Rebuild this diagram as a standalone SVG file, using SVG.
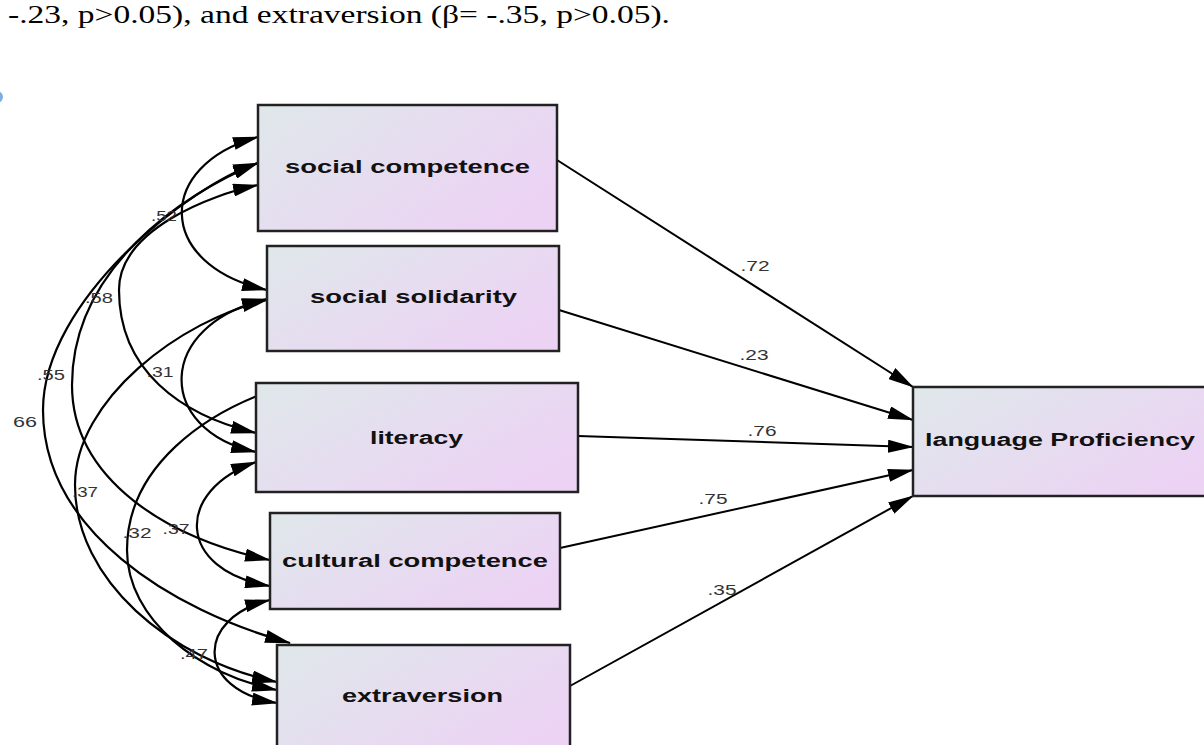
<svg xmlns="http://www.w3.org/2000/svg" width="1204" height="745" viewBox="0 0 1204 745">
<style>
.box{stroke:#222;stroke-width:2.5;fill:url(#g)}
.bt{font-family:"Liberation Sans",Arial,sans-serif;font-weight:bold;font-size:18px;fill:#111;text-anchor:middle}
.lb{font-family:"Liberation Sans",Arial,sans-serif;font-size:15px;fill:#333;text-anchor:middle}
.cv{fill:none;stroke:#000;stroke-width:2.2;marker-start:url(#ah);marker-end:url(#ah)}
.pa{fill:none;stroke:#000;stroke-width:2;marker-end:url(#ah)}
</style>
<defs>
<linearGradient id="g" x1="0" y1="0" x2="1" y2="0.6">
<stop offset="0" stop-color="#dfe8ea"/>
<stop offset="1" stop-color="#ecd3f4"/>
</linearGradient>
<marker id="ah" viewBox="0 0 26 13" refX="25" refY="6.5" markerWidth="26" markerHeight="13" markerUnits="userSpaceOnUse" orient="auto-start-reverse">
<path d="M0,0 L26,6.5 L0,13 z" fill="#000"/>
</marker>
</defs>
<rect width="1204" height="745" fill="#fff"/>
<text x="8" y="23" font-family="'Liberation Serif','Times New Roman',serif" font-size="26" fill="#000" textLength="662" lengthAdjust="spacingAndGlyphs">-.23, p&gt;0.05), and extraversion (β= -.35, p&gt;0.05).</text>
<circle cx="-3" cy="97" r="6" fill="#5b9bd5" opacity="0.8"/>

<g id="connectors">
<path class="cv" d="M258,137 C155,165 155,265 267,290"/>
<path class="cv" d="M267,299 C155,325 155,430 256,452"/>
<path class="cv" d="M256,462 C175,490 175,570 270,586"/>
<path class="cv" d="M270,600 C195,618 195,690 277,703"/>
<path class="cv" d="M258,185 C210,195 119,230 119,290 C119,370 180,415 256,433"/>
<path class="cv" d="M258,163 C190,185 43,300 43,410 C43,530 170,610 290,643"/>
<path class="cv" d="M258,163 C180,195 72,270 72,385 C72,480 170,540 270,560"/>
<path class="cv" d="M267,300 C180,320 75,400 75,485 C75,580 170,660 277,682"/>
<path class="cv" d="M295,383 C200,410 127,470 127,550 C127,620 200,675 277,690"/>
<path class="pa" d="M557,160 L913,387"/>
<path class="pa" d="M559,310 L913,420"/>
<path class="pa" d="M578,436 L913,447"/>
<path class="pa" d="M560,548 L913,470"/>
<path class="pa" d="M570,686 L913,496"/>
<text class="lb" x="164" y="221" textLength="26" lengthAdjust="spacingAndGlyphs">.52</text>
<text class="lb" x="99" y="303" textLength="28" lengthAdjust="spacingAndGlyphs">.58</text>
<text class="lb" x="51" y="380" textLength="28" lengthAdjust="spacingAndGlyphs">.55</text>
<text class="lb" x="25" y="427" textLength="24" lengthAdjust="spacingAndGlyphs">66</text>
<text class="lb" x="160" y="377" textLength="27" lengthAdjust="spacingAndGlyphs">.31</text>
<text class="lb" x="85" y="497" textLength="26" lengthAdjust="spacingAndGlyphs">.37</text>
<text class="lb" x="137" y="538" textLength="29" lengthAdjust="spacingAndGlyphs">.32</text>
<text class="lb" x="176" y="534" textLength="27" lengthAdjust="spacingAndGlyphs">.37</text>
<text class="lb" x="194" y="659" textLength="28" lengthAdjust="spacingAndGlyphs">.47</text>
<text class="lb" x="755" y="271" textLength="29" lengthAdjust="spacingAndGlyphs">.72</text>
<text class="lb" x="754" y="360" textLength="29" lengthAdjust="spacingAndGlyphs">.23</text>
<text class="lb" x="762" y="436" textLength="29" lengthAdjust="spacingAndGlyphs">.76</text>
<text class="lb" x="713" y="504" textLength="29" lengthAdjust="spacingAndGlyphs">.75</text>
<text class="lb" x="722" y="595" textLength="29" lengthAdjust="spacingAndGlyphs">.35</text>
</g>

<g id="social-competence">
<rect class="box" x="258" y="105" width="299" height="126"/>
<text class="bt" x="407.5" y="173" textLength="245" lengthAdjust="spacingAndGlyphs">social competence</text>
</g>
<g id="social-solidarity">
<rect class="box" x="267" y="246" width="292" height="105"/>
<text class="bt" x="413.5" y="303" textLength="207" lengthAdjust="spacingAndGlyphs">social solidarity</text>
</g>
<g id="literacy">
<rect class="box" x="256" y="383" width="322" height="109"/>
<text class="bt" x="416.5" y="444" textLength="93" lengthAdjust="spacingAndGlyphs">literacy</text>
</g>
<g id="cultural-competence">
<rect class="box" x="270" y="513" width="290" height="96"/>
<text class="bt" x="415" y="567" textLength="266" lengthAdjust="spacingAndGlyphs">cultural competence</text>
</g>
<g id="extraversion">
<rect class="box" x="277" y="645" width="293" height="115"/>
<text class="bt" x="422.5" y="702" textLength="161" lengthAdjust="spacingAndGlyphs">extraversion</text>
</g>
<g id="language-proficiency">
<rect class="box" x="913" y="387" width="310" height="109"/>
<text class="bt" x="1060" y="446" textLength="270" lengthAdjust="spacingAndGlyphs">language Proficiency</text>
</g>
</svg>
